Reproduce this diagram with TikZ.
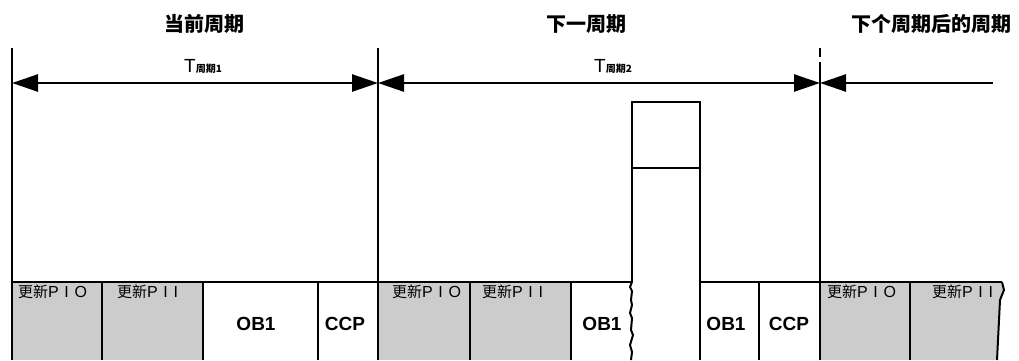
\documentclass[tikz,border=0pt]{standalone}
\usepackage{fontspec}
\setmainfont{Liberation Sans}
\newfontfamily\cjk{Noto Sans CJK SC}
\usetikzlibrary{arrows.meta}
\definecolor{boxgray}{HTML}{CCCCCC}
\begin{document}
\begin{tikzpicture}[x=1pt,y=-1pt,line width=2.4pt,
  hdr/.style={font=\cjk\bfseries\fontsize{20}{20}\selectfont,inner sep=0},
  tlab/.style={font=\fontsize{19}{19}\selectfont,inner sep=0},
  upd/.style={font=\fontsize{16}{16}\selectfont,anchor=west,inner sep=0},
  blk/.style={font=\bfseries\fontsize{19}{19}\selectfont,inner sep=0},
  span/.style={line width=2.6pt},
  thin/.style={line width=2pt}]
\useasboundingbox (0,0) rectangle (1019,360);
% gray fills
\fill[boxgray] (12,282) rectangle (203,360);
\fill[boxgray] (378,282) rectangle (571,360);
\fill[boxgray] (820,282) -- (1002,282) -- (1004,290) -- (1000,300) -- (999,320) -- (998,340) -- (997,360) -- (820,360) -- cycle;
% main verticals
\coordinate (v1t) at (12,48);   \coordinate (v1b) at (12,360);
\coordinate (v2t) at (378,48);  \coordinate (v2b) at (378,360);
\coordinate (v3t) at (820,48);  \coordinate (v3g) at (820,57);
\coordinate (v3h) at (820,62);  \coordinate (v3b) at (820,360);
\draw (v1t) -- (v1b);
\draw (v2t) -- (v2b);
\draw (v3t) -- (v3g);
\draw (v3h) -- (v3b);
% span arrows
\coordinate (aL) at (12,83);
\coordinate (aM) at (378,83);
\coordinate (aR) at (820,83);
\coordinate (aE) at (993,83);
\draw[span,{Triangle[length=26pt,width=17pt]}-{Triangle[length=26pt,width=17pt]}] (aL) -- (aM);
\draw[span,{Triangle[length=26pt,width=17pt]}-{Triangle[length=26pt,width=17pt]}] (aM) -- (aR);
\draw[span,{Triangle[length=26pt,width=17pt]}-] (aR) -- (aE);
% row top line
\draw[thin] (12,282) -- (632,282);
\draw[thin] (700,282) -- (1002,282);
% row dividers
\foreach \x in {102,203,318,470,571,759,910}
  \draw[thin] (\x,282) -- (\x,360);
% tall box
\draw (632,282) -- (632,102) -- (700,102) -- (700,360);
\draw (632,168) -- (700,168);
% torn edges
\draw[thin] (632,282) -- (630,287) -- (632,291) -- (631,300) -- (632,305) -- (630,313) -- (632,318) -- (631,330) -- (633,335) -- (630,345) -- (632,352) -- (631,360);
\draw[thin] (1002,282) -- (1004,290) -- (1000,300) -- (999,320) -- (998,340) -- (997,360);
% headers
\node[hdr] (h1) at (204,24) {当前周期};
\node[hdr] (h2) at (586,24) {下一周期};
\node[hdr] (h3) at (931,24) {下个周期后的周期};
% period labels
\node[tlab] (t1) at (203,66) {T{\cjk\bfseries\fontsize{10}{10}\selectfont 周期1}};
\node[tlab] (t2) at (613,66) {T{\cjk\bfseries\fontsize{10}{10}\selectfont 周期2}};
% box labels
\newcommand{\upd}[1]{{\cjk\fontsize{15}{15}\selectfont 更新}{\addfontfeature{LetterSpace=35}#1}}
\node[upd] (p1) at (17,292) {\upd{PIO}};
\node[upd] (p2) at (116,292) {\upd{PII}};
\node[blk] (o1) at (256,324) {OB1};
\node[blk] (c1) at (345,324) {CCP};
\node[upd] (p3) at (391,292) {\upd{PIO}};
\node[upd] (p4) at (481,292) {\upd{PII}};
\node[blk] (o2) at (602,324) {OB1};
\node[blk] (o3) at (726,324) {OB1};
\node[blk] (c2) at (789,324) {CCP};
\node[upd] (p5) at (826,292) {\upd{PIO}};
\node[upd] (p6) at (931,292) {\upd{PII}};
\end{tikzpicture}
\end{document}
